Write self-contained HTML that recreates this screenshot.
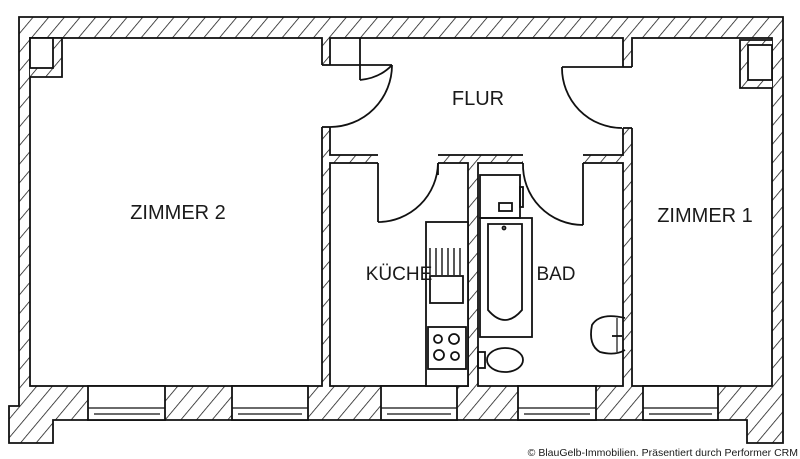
<!DOCTYPE html>
<html><head><meta charset="utf-8"><style>
html,body{margin:0;padding:0;background:#fff;}
svg{display:block}
text{font-family:"Liberation Sans",sans-serif;fill:#1a1a1a}
</style></head><body>
<svg width="800" height="459" viewBox="0 0 800 459" xmlns="http://www.w3.org/2000/svg">
<defs>
<pattern id="h" width="12" height="12" patternUnits="userSpaceOnUse" patternTransform="rotate(40)">
<rect width="12" height="12" fill="#fff"/>
<line x1="0" y1="0" x2="0" y2="12" stroke="#111" stroke-width="1.5"/>
</pattern>
</defs>
<g stroke="#111" stroke-width="1.8" fill="none">
<path d="M19,17 H783 V443 H747 V420 H53 V443 H9 V406 H19 Z" fill="url(#h)"/>
<rect x="30" y="38" width="292" height="348" fill="#fff"/>
<rect x="330" y="38" width="293" height="117" fill="#fff"/>
<rect x="330" y="163" width="138" height="223" fill="#fff"/>
<rect x="478" y="163" width="145" height="223" fill="#fff"/>
<rect x="632" y="38" width="140" height="348" fill="#fff"/>
<path d="M30,38 H62 V77 H30" fill="url(#h)"/>
<rect x="30" y="38" width="23" height="30" fill="#fff"/>
<path d="M772,40 H740 V88 H772" fill="url(#h)"/>
<rect x="748" y="45" width="24" height="35" fill="#fff"/>
<rect x="321" y="65" width="10" height="62" fill="#fff" stroke="none"/>
<line x1="322" y1="65" x2="330" y2="65"/><line x1="322" y1="127" x2="330" y2="127"/>
<rect x="622" y="67" width="11" height="61" fill="#fff" stroke="none"/>
<line x1="623" y1="67" x2="632" y2="67"/><line x1="623" y1="128" x2="632" y2="128"/>
<rect x="378" y="154" width="60" height="10" fill="#fff" stroke="none"/>
<rect x="523" y="154" width="60" height="10" fill="#fff" stroke="none"/>
<line x1="330" y1="65" x2="392" y2="65"/>
<path d="M392,65 A62,62 0 0 1 330,127"/>
<line x1="360" y1="38" x2="360" y2="80"/>
<path d="M360,80 Q380,78 392,65"/>
<line x1="562" y1="67" x2="623" y2="67"/>
<path d="M562,67 A60,60 0 0 0 622,128"/>
<line x1="378" y1="163" x2="378" y2="222"/>
<path d="M378,222 A60,60 0 0 0 438,163"/>
<line x1="438" y1="163" x2="438" y2="175"/>
<line x1="583" y1="163" x2="583" y2="225"/>
<path d="M583,225 A60,60 0 0 1 523,163"/>
<g fill="#fff">
<rect x="88" y="386" width="77" height="34"/>
<rect x="232" y="386" width="76" height="34"/>
<rect x="381" y="386" width="76" height="34"/>
<rect x="518" y="386" width="78" height="34"/>
<rect x="643" y="386" width="75" height="34"/>
</g>
<g stroke-width="1.2">
<path d="M88,408 H165 M94,414 H160 M232,408 H308 M238,414 H302 M381,408 H457 M387,414 H451 M518,408 H596 M524,414 H590 M643,408 H718 M649,414 H712"/>
</g>
<rect x="426" y="222" width="42" height="164" fill="#fff"/>
<path d="M430,248 V275 M436,248 V275 M442,248 V275 M448,248 V275 M454,248 V275 M460,248 V275" stroke-width="1.4"/>
<rect x="430" y="276" width="33" height="27"/>
<rect x="428" y="327" width="38" height="42"/>
<circle cx="438" cy="339" r="4"/><circle cx="454" cy="339" r="5"/>
<circle cx="439" cy="355" r="5"/><circle cx="455" cy="356" r="4"/>
<rect x="480" y="175" width="40" height="43"/>
<rect x="499" y="203" width="13" height="8"/>
<rect x="520" y="187" width="3" height="20"/>
<rect x="480" y="218" width="52" height="119"/>
<path d="M488,224 H522 V310 Q505,330 488,310 Z"/>
<circle cx="504" cy="228" r="1.5"/>
<ellipse cx="505" cy="360" rx="18" ry="12" fill="#fff"/>
<rect x="478" y="352" width="7" height="16"/>
<path d="M625,318 Q600,312 592,325 Q588,345 600,352 Q615,356 625,350"/>
<path d="M617,318 V352" stroke-width="1.2"/>
<line x1="612" y1="336" x2="622" y2="336"/>
</g>
<text x="478" y="105" font-size="20" text-anchor="middle">FLUR</text>
<text x="178" y="219" font-size="20" text-anchor="middle">ZIMMER 2</text>
<text x="705" y="222" font-size="20" text-anchor="middle">ZIMMER 1</text>
<text x="399" y="280" font-size="19" text-anchor="middle">KÜCHE</text>
<text x="556" y="280" font-size="19" text-anchor="middle">BAD</text>
<text x="798" y="456" font-size="10.5" text-anchor="end">© BlauGelb-Immobilien. Präsentiert durch Performer CRM</text>
</svg>
</body></html>
